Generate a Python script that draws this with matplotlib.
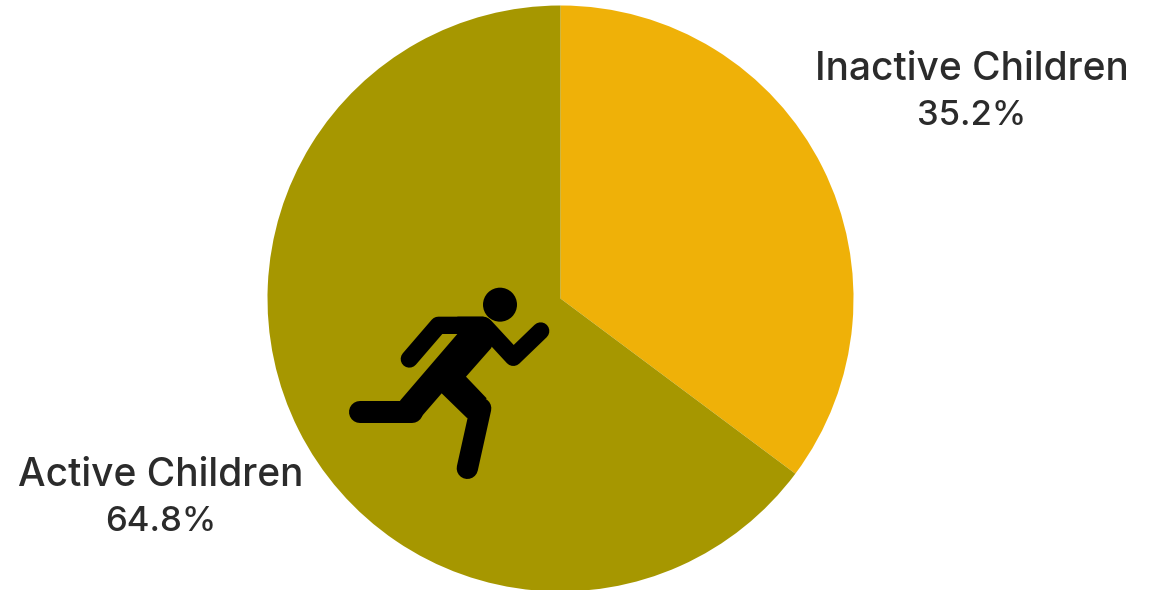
import matplotlib
matplotlib.use("Agg")
import matplotlib.pyplot as plt
from matplotlib.patches import Circle, Polygon

categories = ["Inactive Children", "Active Children"]
shares = [35.2, 64.8]
colors = ["#EFB108", "#A69700"]

W, H = 1158, 590
fig = plt.figure(figsize=(W / 100, H / 100), dpi=100)

# Pie placed by pixel position
pie_ax = fig.add_axes([(560.5 - 293) / W, 1 - (298.5 + 293) / H, 586 / W, 586 / H])
pie_ax.pie(shares, colors=colors, startangle=90, counterclock=False, radius=1.0)
pie_ax.set_xlim(-1, 1)
pie_ax.set_ylim(-1, 1)

# Overlay in pixel coordinates for the labels and the runner icon
ax = fig.add_axes([0, 0, 1, 1])
ax.set_xlim(0, W)
ax.set_ylim(H, 0)
ax.axis("off")
ax.patch.set_alpha(0)

font = "Inter"
label_color = "#2b2b2b"
label_pos = [(972, 69, 116), (161, 476, 522)]
for (x, y_name, y_share), name, share in zip(label_pos, categories, shares):
    ax.text(x, y_name, name, ha="center", va="center", fontsize=28, family=font,
            fontweight="medium", color=label_color)
    ax.text(x, y_share, f"{share}%", ha="center", va="center", fontsize=25, family=font,
            fontweight="medium", color=label_color)


# Icon outline was laid out on a 3x grid with its origin at (330, 270)
def pt(x, y):
    return (330 + x / 3, 270 + y / 3)


def limb(points, width):
    xs, ys = zip(*[pt(*p) for p in points])
    ax.plot(xs, ys, color="black", lw=width / 3 * 0.72, solid_capstyle="round", solid_joinstyle="round")


ax.add_patch(Circle(pt(510, 104), 17, color="black", lw=0))
torso = [(382, 192), (382, 140), (460, 140), (505, 190), (483, 235), (408, 320), (470, 385),
         (412, 445), (335, 370), (270, 445), (210, 392)]
ax.add_patch(Polygon([pt(*p) for p in torso], closed=True, color="black", lw=0))
limb([(238, 267), (325, 166), (460, 166)], 52)
limb([(465, 170), (550, 262), (632, 183)], 52)
limb([(90, 425), (245, 425)], 66)
limb([(452, 415), (412, 595)], 64)

fig.savefig("out.png", dpi=100)
